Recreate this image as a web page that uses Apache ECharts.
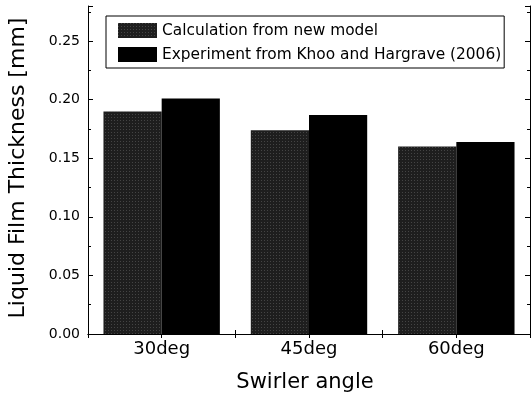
<!DOCTYPE html>
<html><head><meta charset="utf-8">
<script src="https://cdn.jsdelivr.net/npm/echarts@6/dist/echarts.min.js"></script>
<style>html,body{margin:0;padding:0;background:#fff}#c{width:531px;height:394px}</style>
</head><body><div id="c"></div>
<script>
const categories = ['30deg', '45deg', '60deg'];
const calcValues = [0.190, 0.174, 0.160];
const expValues = [0.201, 0.187, 0.164];
const seriesNames = ['Calculation from new model', 'Experiment from Khoo and Hargrave (2006)'];
const xTitle = 'Swirler angle';
const yTitle = 'Liquid Film Thickness [mm]';

const F = 'DejaVu Sans, Verdana, sans-serif';
const chart = echarts.init(document.getElementById('c'), null, {renderer: 'canvas'});
const line = {show: true, lineStyle: {color: '#000', width: 1}};
chart.setOption({
  animation: false,
  backgroundColor: '#fff',
  grid: {left: 88, right: 1, top: 6, bottom: 60, containLabel: false, outerBoundsMode: 'none'},
  legend: {
    orient: 'vertical', left: 106, top: 16,
    icon: 'rect', itemWidth: 39, itemHeight: 15, itemGap: 9,
    padding: [7, 3, 6, 12],
    borderColor: '#000', borderWidth: 1, backgroundColor: '#fff',
    textStyle: {fontFamily: F, fontSize: 15.4, color: '#000'},
    data: seriesNames
  },
  xAxis: [{
    type: 'category', data: categories, position: 'bottom',
    axisLine: line,
    axisTick: {show: true, inside: true, length: 4, lineStyle: {color: '#000'}},
    axisLabel: {fontFamily: F, fontSize: 18, color: '#000', margin: 6},
    name: xTitle, nameLocation: 'middle', nameGap: 38,
    nameTextStyle: {fontFamily: F, fontSize: 21, color: '#000', padding: [0, 8, 0, 0]}
  }, {
    type: 'value', position: 'top', min: 0.5, max: 3.5, interval: 0.5,
    axisLine: line,
    axisTick: {show: true, inside: true, length: 4, lineStyle: {color: '#000'}},
    axisLabel: {show: false}, splitLine: {show: false}
  }],
  yAxis: [{
    type: 'value', min: 0, max: 0.28, interval: 0.05, position: 'left',
    axisLine: line,
    axisTick: {show: true, inside: true, length: 5, lineStyle: {color: '#000'}},
    minorTick: {show: true, splitNumber: 2, length: 3, lineStyle: {color: '#000'}},
    axisLabel: {fontFamily: F, fontSize: 14, color: '#000', margin: 8, showMaxLabel: false,
      formatter: v => v.toFixed(2)},
    splitLine: {show: false},
    name: yTitle, nameLocation: 'middle', nameGap: 59,
    nameTextStyle: {fontFamily: F, fontSize: 22, color: '#000', padding: [0, 0, 0, 4]}
  }, {
    type: 'value', min: 0, max: 0.28, interval: 0.05, position: 'right',
    axisLine: line,
    axisTick: {show: true, inside: true, length: 5, lineStyle: {color: '#000'}},
    minorTick: {show: true, splitNumber: 2, length: 3, lineStyle: {color: '#000'}},
    axisLabel: {show: false}, splitLine: {show: false}
  }],
  series: [{
    name: seriesNames[0], type: 'bar', data: calcValues,
    xAxisIndex: 0, yAxisIndex: 0,
    barGap: '0%', barCategoryGap: '21%',
    itemStyle: {color: '#1e1e1e',
      decal: {symbol: 'rect', symbolSize: 1, color: 'rgba(170,170,170,0.28)',
        dashArrayX: [1, 2], dashArrayY: [1, 2], rotation: 0}}
  }, {
    name: seriesNames[1], type: 'bar', data: expValues,
    xAxisIndex: 0, yAxisIndex: 0,
    barGap: '0%', barCategoryGap: '21%',
    itemStyle: {color: '#000'}
  }]
});
</script></body></html>
